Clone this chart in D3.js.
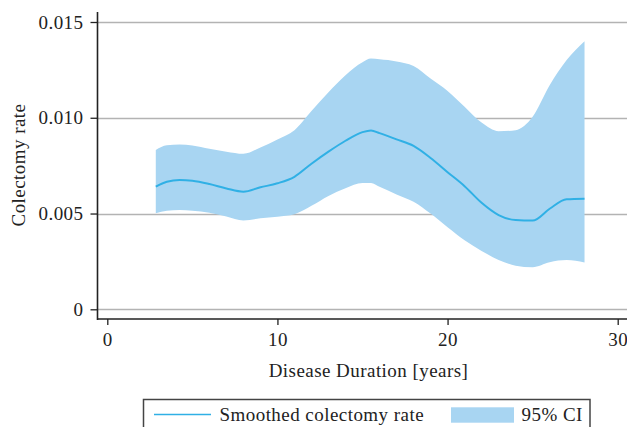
<!DOCTYPE html>
<html>
<head>
<meta charset="utf-8">
<script src="https://cdn.jsdelivr.net/npm/d3@7"></script>
<style>
  html, body { margin: 0; padding: 0; background: #fff; }
  svg { display: block; }
  text { font-family: "Liberation Serif", "Times New Roman", serif; fill: #222; letter-spacing: 0.45px; }
</style>
</head>
<body>
<svg id="chart" width="627" height="427"></svg>
<script>
// ---- data ----
const durations = [2.85, 3.5, 4.25, 5, 6, 7, 8, 9, 10, 11, 12, 13, 14, 15, 15.5, 16, 17, 18, 19, 20, 21, 22, 23, 24, 25, 26, 27, 28.05];
const smoothedRate = [0.00640, 0.00666, 0.00675, 0.00671, 0.00654, 0.00631, 0.00614, 0.00637, 0.00658, 0.00692, 0.00760, 0.00823, 0.00880, 0.00925, 0.00934, 0.00920, 0.00887, 0.00853, 0.00790, 0.00716, 0.00643, 0.00556, 0.00492, 0.00466, 0.00463, 0.00525, 0.00574, 0.00577];
const ciUpper = [0.00832, 0.00856, 0.00860, 0.00855, 0.00838, 0.00823, 0.00812, 0.00845, 0.00887, 0.00935, 0.01035, 0.01133, 0.01222, 0.01290, 0.01309, 0.01305, 0.01294, 0.01270, 0.01205, 0.01140, 0.01058, 0.00975, 0.00930, 0.00935, 0.01005, 0.01170, 0.01302, 0.01400];
const ciLower = [0.00501, 0.00515, 0.00518, 0.00514, 0.00504, 0.00485, 0.00464, 0.00475, 0.00483, 0.00496, 0.00540, 0.00592, 0.00632, 0.00660, 0.00660, 0.00640, 0.00600, 0.00562, 0.00500, 0.00428, 0.00360, 0.00305, 0.00258, 0.00228, 0.00220, 0.00246, 0.00257, 0.00244];
const xTicks = [0, 10, 20, 30];
const yTicks = [0, 0.005, 0.010, 0.015];
const yTickLabels = ["0", "0.005", "0.010", "0.015"];
const xTitle = "Disease Duration [years]";
const yTitle = "Colectomy rate";
const legendLabels = ["Smoothed colectomy rate", "95% CI"];

// ---- styles ----
const FILL = "#a8d5f2";
const LINE = "#30b0e5";
const FONT = 19;

const svg = d3.select("#chart");
const x = d3.scaleLinear().domain([0, 30]).range([107.3, 617.7]);
const y = d3.scaleLinear().domain([0, 0.015]).range([309.3, 22]);

const rows = durations.map((d, i) => ({ d, m: smoothedRate[i], lo: ciLower[i], hi: ciUpper[i] }));

// gridlines
svg.append("g").selectAll("line").data(yTicks).join("line")
  .attr("x1", 97.5).attr("x2", 627)
  .attr("y1", d => Math.round(y(d)) + 0.5).attr("y2", d => Math.round(y(d)) + 0.5)
  .attr("stroke", "#b3b3b3").attr("stroke-width", 1.3);

// CI band
const area = d3.area().x(r => x(r.d)).y0(r => y(r.lo)).y1(r => y(r.hi)).curve(d3.curveMonotoneX);
svg.append("path").datum(rows).attr("d", area).attr("fill", FILL);

// smoothed line
const line = d3.line().x(r => x(r.d)).y(r => y(r.m)).curve(d3.curveMonotoneX);
svg.append("path").datum(rows).attr("d", line).attr("fill", "none")
  .attr("stroke", LINE).attr("stroke-width", 2);

// y axis
const yAxis = d3.axisLeft(y).tickValues(yTicks).tickFormat((d, i) => yTickLabels[i])
  .tickSize(7).tickPadding(7);
const gy = svg.append("g").attr("transform", "translate(97.5,0)").call(yAxis);
gy.select(".domain").remove();
gy.selectAll(".tick line").attr("stroke", "#222").attr("stroke-width", 1.3);
gy.selectAll(".tick text").attr("font-size", FONT).attr("font-family", "Liberation Serif, serif")
  .attr("fill", "#222").attr("dy", "0.32em");
svg.append("line").attr("x1", 97.5).attr("x2", 97.5).attr("y1", 12).attr("y2", 320)
  .attr("stroke", "#222").attr("stroke-width", 1.6);

// x axis
const xAxis = d3.axisBottom(x).tickValues(xTicks).tickFormat(d3.format("d"))
  .tickSize(6).tickPadding(8);
const gx = svg.append("g").attr("transform", "translate(0,319)").call(xAxis);
gx.select(".domain").remove();
gx.selectAll(".tick line").attr("stroke", "#222").attr("stroke-width", 1.3);
gx.selectAll(".tick text").attr("font-size", FONT).attr("font-family", "Liberation Serif, serif")
  .attr("fill", "#222");
svg.append("line").attr("x1", 97).attr("x2", 627).attr("y1", 319).attr("y2", 319)
  .attr("stroke", "#222").attr("stroke-width", 1.6);

// titles
svg.append("text").attr("x", 368.5).attr("y", 377).attr("text-anchor", "middle")
  .attr("font-size", FONT).text(xTitle);
svg.append("text").attr("transform", "translate(25,165) rotate(-90)").attr("text-anchor", "middle")
  .attr("font-size", FONT).text(yTitle);

// legend
const lg = svg.append("g");
lg.append("rect").attr("x", 143.5).attr("y", 399.5).attr("width", 446.5).attr("height", 40)
  .attr("fill", "#fff").attr("stroke", "#444").attr("stroke-width", 1.5);
lg.append("line").attr("x1", 154).attr("x2", 211).attr("y1", 414.5).attr("y2", 414.5)
  .attr("stroke", LINE).attr("stroke-width", 1.5);
lg.append("text").attr("x", 219.5).attr("y", 421).attr("font-size", FONT).text(legendLabels[0]);
lg.append("rect").attr("x", 451).attr("y", 407.3).attr("width", 63).attr("height", 15.4).attr("fill", FILL);
lg.append("text").attr("x", 521.5).attr("y", 421).attr("font-size", FONT).text(legendLabels[1]);
</script>
</body>
</html>
